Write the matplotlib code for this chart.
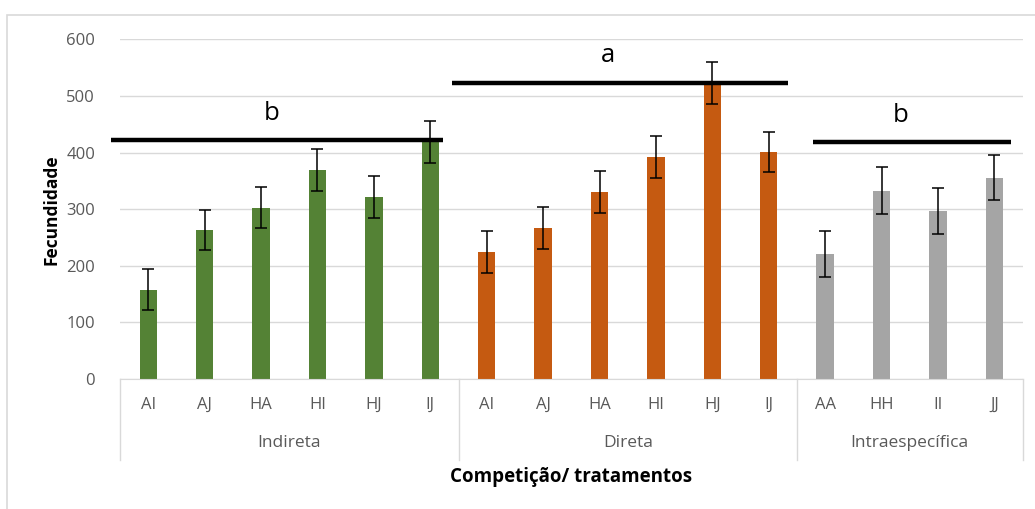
import numpy as np
import matplotlib.pyplot as plt
import matplotlib.transforms as mtransforms
from matplotlib.patches import Rectangle

# valores
grupos = ["Indireta", "Direta", "Intraespecífica"]
trat_indireta = ["AI", "AJ", "HA", "HI", "HJ", "IJ"]
trat_direta = ["AI", "AJ", "HA", "HI", "HJ", "IJ"]
trat_intra = ["AA", "HH", "II", "JJ"]

fec_indireta = [158, 263, 303, 369, 321, 419]
fec_direta = [224, 267, 330, 393, 523, 401]
fec_intra = [221, 333, 297, 356]

erro_indireta = [36, 35, 37, 37, 37, 37]
erro_direta = [37, 37, 37, 37, 37, 36]
erro_intra = [41, 41, 41, 40]

# letras de significancia: nivel da linha e altura da letra
letras = ["b", "a", "b"]
linha_nivel = [422, 524, 419]
letra_nivel = [469, 572, 466]

cores = ["#548235", "#C55A11", "#A5A5A5"]
cinza_txt = "#595959"

plt.rcParams["font.family"] = ["Open Sans", "DejaVu Sans"]

fig = plt.figure(figsize=(10.35, 5.09), dpi=100)
fig.patches.append(Rectangle((7 / 1035, -0.1), 1.2, (509 - 15) / 509 + 0.1,
                             transform=fig.transFigure, fill=False,
                             edgecolor="#D9D9D9", lw=1.2))
ax = fig.add_axes([0.116, 0.2554, 0.872, 0.667])

trats = [trat_indireta, trat_direta, trat_intra]
fecs = [fec_indireta, fec_direta, fec_intra]
erros = [erro_indireta, erro_direta, erro_intra]

trans = mtransforms.blended_transform_factory(ax.transData, ax.transAxes)
inicio = 0
for g in range(3):
    n = len(trats[g])
    x = np.arange(inicio, inicio + n)
    ax.bar(x, fecs[g], width=0.31, color=cores[g], zorder=2)
    ax.errorbar(x, fecs[g], yerr=erros[g], fmt="none", ecolor="black",
                elinewidth=1.1, capsize=4.5, capthick=1.1, zorder=3)
    for xi, t in zip(x, trats[g]):
        ax.text(xi, -0.077, t, transform=trans, ha="center", va="center",
                fontsize=12, color=cinza_txt)
    ax.text(inicio + (n - 1) / 2, -0.188, grupos[g], transform=trans,
            ha="center", va="center", fontsize=12.5, color=cinza_txt)
    # separadores do eixo de categorias
    ax.plot([inicio - 0.5, inicio - 0.5], [0, -0.239], transform=trans,
            color="#D9D9D9", lw=1, clip_on=False)
    inicio += n
ax.plot([inicio - 0.5, inicio - 0.5], [0, -0.239], transform=trans,
        color="#D9D9D9", lw=1, clip_on=False)

# linhas e letras de significancia
linha_x = [(-0.66, 5.23), (5.39, 11.34), (11.79, 15.3)]
letra_x = [2.19, 8.15, 13.33]
for (x0, x1), xt, yl, yt, s in zip(linha_x, letra_x, linha_nivel,
                                   letra_nivel, letras):
    ax.plot([x0, x1], [yl, yl], color="black", lw=3.2, zorder=4,
            solid_capstyle="butt", clip_on=False)
    ax.text(xt, yt, s, ha="center", va="center", fontsize=18.5, color="black")

ax.set_xlim(-0.5, 15.5)
ax.set_ylim(0, 600)
ax.set_yticks(np.arange(0, 601, 100))
ax.set_xticks([])
ax.tick_params(axis="y", length=0, pad=18, labelsize=12, labelcolor=cinza_txt)
ax.grid(axis="y", color="#D9D9D9", lw=1, zorder=0)
ax.set_axisbelow(True)
for lado in ["top", "right", "left"]:
    ax.spines[lado].set_visible(False)
ax.spines["bottom"].set_color("#D9D9D9")

ax.set_ylabel("Fecundidade", fontsize=12.5, fontweight="bold", labelpad=4)
ax.text(0.5, -0.289, "Competição/ tratamentos", transform=ax.transAxes,
        ha="center", va="center", fontsize=13.5, fontweight="bold")

plt.savefig("out.png", dpi=100)
